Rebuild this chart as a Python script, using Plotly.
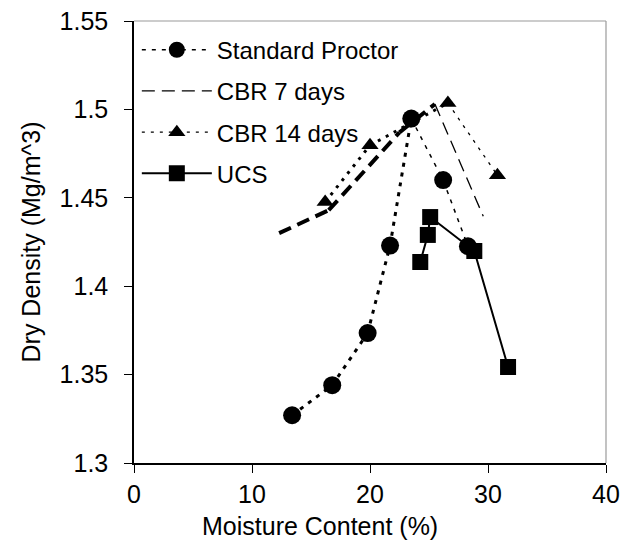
import plotly.graph_objects as go

# ---- data ----
proctor_x = [13.4, 16.8, 19.8, 21.7, 23.5, 26.2, 28.3]
proctor_y = [1.327, 1.344, 1.3735, 1.423, 1.4948, 1.460, 1.4226]

cbr7_x = [12.3, 16.5, 22.5, 25.5, 29.6]
cbr7_y = [1.430, 1.443, 1.487, 1.503, 1.4395]

cbr14_x = [16.2, 20.0, 26.6, 30.8]
cbr14_y = [1.4476, 1.4797, 1.5036, 1.4627]

ucs_x = [24.26, 24.9, 25.1, 28.84, 31.7]
ucs_y = [1.4137, 1.429, 1.4391, 1.4199, 1.3543]

x_ticks = [0, 10, 20, 30, 40]
y_ticks = [1.3, 1.35, 1.4, 1.45, 1.5, 1.55]

FONT = "Liberation Sans, Arial, sans-serif"
fig = go.Figure()


def add_series(name, xs, ys, dash, thick, thin, symbol, msize, group):
    # rising segments drawn thicker (as in the original rendering)
    for i in range(len(xs) - 1):
        if ys[i + 1] > ys[i]:
            fig.add_trace(go.Scatter(
                x=[xs[i], xs[i + 1]], y=[ys[i], ys[i + 1]], mode="lines",
                line=dict(color="black", width=thick, dash=dash),
                showlegend=False, hoverinfo="skip", legendgroup=group))
    # descending segments (thin) + markers, this trace carries the legend entry
    bx, by = [], []
    for i in range(len(xs)):
        bx.append(xs[i]); by.append(ys[i])
        if i < len(xs) - 1 and ys[i + 1] > ys[i]:
            bx.append(None); by.append(None)
    mode = "lines+markers" if symbol else "lines"
    fig.add_trace(go.Scatter(
        x=bx, y=by, mode=mode, name=name, connectgaps=False,
        line=dict(color="black", width=thin, dash=dash),
        marker=dict(symbol=symbol or "circle", size=msize, color="black"),
        legendgroup=group))


add_series("Standard Proctor", proctor_x, proctor_y, "4px,6px", 3, 1.5, "circle", 18, "g1")
add_series("CBR 7 days", cbr7_x, cbr7_y, "13px,7px", 4, 1.3, None, 0, "g2")
add_series("CBR 14 days", cbr14_x, cbr14_y, "3px,6px", 3, 1.3, "triangle-up", 15, "g3")

fig.add_trace(go.Scatter(
    x=ucs_x, y=ucs_y, mode="lines+markers", name="UCS",
    line=dict(color="black", width=2),
    marker=dict(symbol="square", size=16, color="black"),
    legendgroup="g4"))

# grey top and right border
fig.add_shape(type="line", xref="paper", yref="paper", x0=0, x1=1, y0=1, y1=1,
              line=dict(color="#9a9a9a", width=1.2))
fig.add_shape(type="line", xref="paper", yref="paper", x0=1, x1=1, y0=0, y1=1,
              line=dict(color="#9a9a9a", width=1.2))

# x-axis title (centred on the chart, as in the reference)
fig.add_annotation(text="Moisture Content (%)", xref="paper", yref="paper",
                   x=0.394, y=0, xanchor="center", yanchor="middle", yshift=-63,
                   showarrow=False, font=dict(size=25, family=FONT, color="black"))

fig.update_layout(
    width=622, height=546,
    margin=dict(l=134, r=16, t=21, b=83),
    paper_bgcolor="white", plot_bgcolor="white",
    font=dict(family=FONT, color="black"),
    showlegend=True,
    legend=dict(x=0.006, y=0.985, xanchor="left", yanchor="top",
                bgcolor="rgba(0,0,0,0)", itemwidth=70, tracegroupgap=7,
                font=dict(size=24, family=FONT), traceorder="grouped"),
    xaxis=dict(range=[0, 40], tickvals=x_ticks, showgrid=False, zeroline=False,
               showline=True, linecolor="black", linewidth=1.5,
               ticks="outside", ticklen=8, tickcolor="black", tickwidth=1,
               tickfont=dict(size=25), ticklabelstandoff=0),
    yaxis=dict(range=[1.3, 1.55], tickvals=y_ticks, showgrid=False, zeroline=False,
               showline=True, linecolor="black", linewidth=1.5,
               ticks="outside", ticklen=8, tickcolor="black", tickwidth=1,
               tickfont=dict(size=25), ticklabelstandoff=11,
               title=dict(text="Dry Density (Mg/m^3)", font=dict(size=25), standoff=12)),
)
fig.update_xaxes(automargin=False)
fig.update_yaxes(automargin=False)

fig.write_html("out.html")
